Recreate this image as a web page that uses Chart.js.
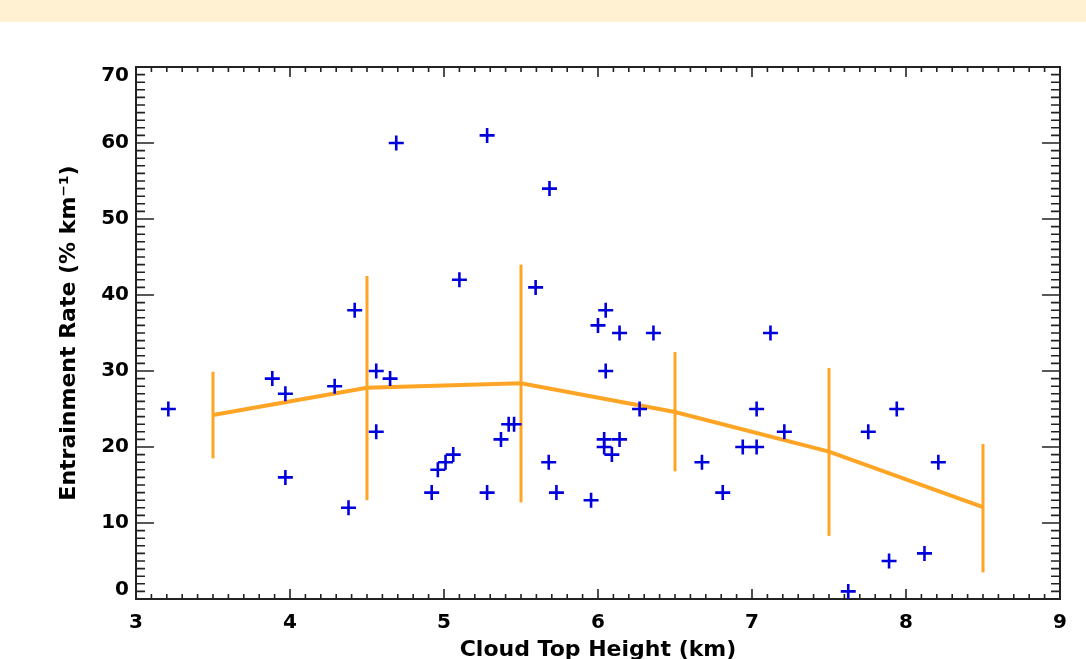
<!DOCTYPE html>
<html>
<head>
<meta charset="utf-8">
<script src="https://cdn.jsdelivr.net/npm/chart.js@4/dist/chart.umd.min.js"></script>
<style>
  html, body { margin: 0; padding: 0; background: #ffffff; overflow: hidden; width: 1086px; height: 659px; }
  #banda { position: absolute; left: 0; top: 0; width: 1086px; height: 22px; background: #fff1d2; }
  #chart { position: absolute; left: 0; top: 0; }
</style>
</head>
<body>
<div id="banda"></div>
<canvas id="chart" width="1086" height="680"></canvas>
<script>
// individual clouds
var alturaNube = [3.21, 3.885, 3.97, 3.97, 4.29, 4.38, 4.42, 4.56, 4.56, 4.65, 4.69,
    4.92, 4.96, 5.01, 5.06, 5.10, 5.28, 5.28, 5.37, 5.42, 5.455, 5.595, 5.685, 5.68, 5.73,
    5.955, 6.0, 6.05, 6.05, 6.04, 6.04, 6.09, 6.14, 6.14, 6.27, 6.36, 6.675, 6.81, 6.94,
    7.03, 7.03, 7.12, 7.21, 7.625, 7.755, 7.89, 7.94, 8.12, 8.21];
var tasaEntrada = [25, 29, 27, 16, 28, 12, 38, 30, 22, 29, 60,
    14, 17, 18, 19, 42, 61, 14, 21, 23, 23, 41, 54, 18, 14,
    13, 36, 38, 30, 21, 20, 19, 35, 21, 25, 35, 18, 14, 20,
    20, 25, 35, 22, 1, 22, 5, 25, 6, 18];

// bin means and spread
var centrosBin = [3.5, 4.5, 5.5, 6.5, 7.5, 8.5];
var mediaBin = [24.2, 27.8, 28.4, 24.6, 19.4, 12.1];
var minBin = [18.5, 13.0, 12.7, 16.8, 8.3, 3.5];
var maxBin = [29.9, 42.5, 44.0, 32.5, 30.4, 20.4];

var ticksX = [3, 4, 5, 6, 7, 8, 9];
var ticksY = [0, 10, 20, 30, 40, 50, 60, 70];

var naranja = '#ffa526';
var azul = '#0000dd';
var negro = '#222222';

Chart.defaults.font.family = '"DejaVu Sans", sans-serif';
Chart.defaults.font.weight = 'bold';
Chart.defaults.color = '#000000';

var puntos = [];
for (var i = 0; i < alturaNube.length; i++) {
    puntos.push({ x: alturaNube[i], y: tasaEntrada[i] });
}
var linea = [];
for (var j = 0; j < centrosBin.length; j++) {
    linea.push({ x: centrosBin[j], y: mediaBin[j] });
}

// frame and inward tick marks on all four sides, minor ticks too
var marco = {
    id: 'marco',
    beforeDatasetsDraw: function (chart) {
        var ctx = chart.ctx;
        var a = chart.chartArea;
        var sx = chart.scales.x;
        var sy = chart.scales.y;
        ctx.save();
        ctx.strokeStyle = negro;
        ctx.lineWidth = 1.6;
        for (var k = 0; k <= 60; k++) {
            var vx = 3 + k / 10;
            var px = sx.getPixelForValue(vx);
            var largo = (k % 10 === 0) ? 10 : 5;
            ctx.beginPath();
            ctx.moveTo(px, a.bottom); ctx.lineTo(px, a.bottom - largo);
            ctx.moveTo(px, a.top); ctx.lineTo(px, a.top + largo);
            ctx.stroke();
        }
        for (var m = 0; m <= 70; m++) {
            var py = sy.getPixelForValue(m);
            var l2 = (m % 10 === 0) ? 18 : 9;
            ctx.beginPath();
            ctx.moveTo(a.left, py); ctx.lineTo(a.left + l2, py);
            ctx.moveTo(a.right, py); ctx.lineTo(a.right - l2, py);
            ctx.stroke();
        }
        ctx.lineWidth = 2;
        ctx.strokeRect(a.left, a.top, a.right - a.left, a.bottom - a.top);
        ctx.restore();
    }
};

// vertical bars for each bin
var barras = {
    id: 'barras',
    afterDatasetDraw: function (chart, args) {
        if (args.index !== 1) return;
        var ctx = chart.ctx;
        var sx = chart.scales.x;
        var sy = chart.scales.y;
        ctx.save();
        ctx.strokeStyle = naranja;
        ctx.lineWidth = 3;
        for (var i = 0; i < centrosBin.length; i++) {
            var px = sx.getPixelForValue(centrosBin[i]);
            ctx.beginPath();
            ctx.moveTo(px, sy.getPixelForValue(minBin[i]));
            ctx.lineTo(px, sy.getPixelForValue(maxBin[i]));
            ctx.stroke();
        }
        ctx.restore();
    }
};

var datos = {
    type: 'scatter',
    data: {
        datasets: [{
            label: 'clouds',
            data: puntos,
            pointStyle: 'cross',
            pointRadius: 7.5,
            pointHoverRadius: 7.5,
            borderColor: azul,
            backgroundColor: azul,
            borderWidth: 2.6,
            clip: false,
            order: 0
        }, {
            label: 'mean',
            data: linea,
            showLine: true,
            borderColor: naranja,
            borderWidth: 4,
            pointRadius: 0,
            fill: false,
            clip: false,
            order: 1
        }]
    },
    options: {
        responsive: false,
        animation: false,
        devicePixelRatio: 1,
        layout: { padding: { top: 67, right: 26, left: 0, bottom: 0 } },
        plugins: {
            legend: { display: false },
            tooltip: { enabled: false },
            title: { display: false }
        },
        scales: {
            x: {
                type: 'linear',
                min: 3,
                max: 9,
                afterBuildTicks: function (scale) {
                    scale.ticks = ticksX.map(function (v) { return { value: v }; });
                },
                afterFit: function (scale) { scale.height = 81; },
                grid: { display: false, drawTicks: false },
                border: { display: false },
                ticks: { font: { size: 20, weight: 'bold' }, padding: 12, maxRotation: 0, autoSkip: false },
                title: {
                    display: true,
                    text: 'Cloud Top Height (km)',
                    font: { size: 22, weight: 'bold' },
                    padding: { top: 0, bottom: 17 }
                }
            },
            y: {
                type: 'linear',
                min: 0,
                max: 70,
                afterBuildTicks: function (scale) {
                    scale.ticks = ticksY.map(function (v) { return { value: v }; });
                },
                afterFit: function (scale) { scale.width = 136; },
                grid: { display: false, drawTicks: false },
                border: { display: false },
                ticks: {
                    font: { size: 20, weight: 'bold', lineHeight: 0.9 },
                    padding: 7,
                    callback: function (v) {
                        if (v === 70) return ['', '70'];
                        if (v === 0) return ['0', ''];
                        return String(v);
                    }
                },
                title: {
                    display: true,
                    text: 'Entrainment Rate (% km⁻¹)',
                    font: { size: 22, weight: 'bold' },
                    padding: { top: 56, bottom: 0 }
                }
            }
        }
    },
    plugins: [marco, barras]
};

var canvas = document.getElementById('chart').getContext('2d');
window.grafico = new Chart(canvas, datos);
</script>
</body>
</html>
